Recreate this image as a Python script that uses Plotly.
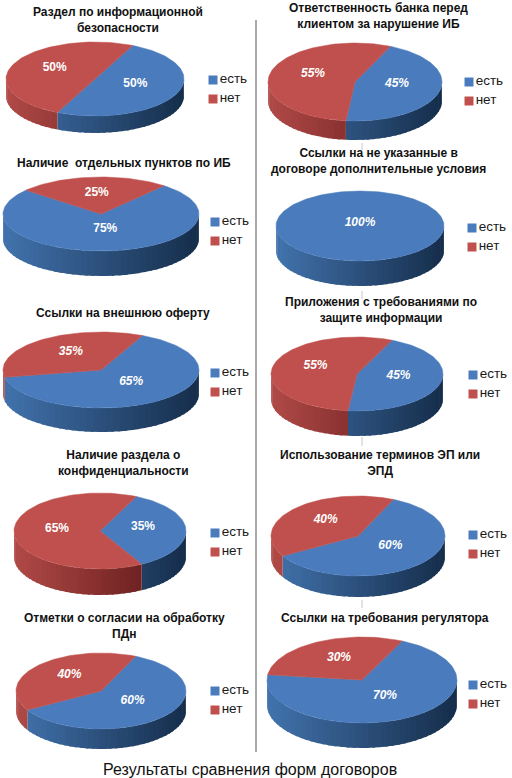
import numpy as np
import plotly.graph_objects as go

# --- data ---
titles = [
    "Раздел по информационной<br>безопасности",
    "Ответственность банка перед<br>клиентом за нарушение ИБ",
    "Наличие  отдельных пунктов по ИБ",
    "Ссылки на не указанные в<br>договоре дополнительные условия",
    "Ссылки на внешнюю оферту",
    "Приложения с требованиями по<br>защите информации",
    "Наличие раздела о<br>конфиденциальности",
    "Использование терминов ЭП или<br>ЭПД",
    "Отметки о согласии на обработку<br>ПДн",
    "Ссылки на требования регулятора",
]
yes_share = [50, 45, 75, 100, 65, 45, 35, 60, 60, 70]
no_share = [50, 55, 25, 0, 35, 55, 65, 40, 40, 30]
series_names = ["есть", "нет"]
caption = "Результаты сравнения форм договоров"

# --- layout of each small pie (pixel coords, y downwards) ---
pies = [
    dict(cx=95, cy=79, a=89, b=37, h=17, rot=25, tx=118, ty=20, lx=213, ly=80, it=False),
    dict(cx=355, cy=82, a=87, b=39, h=19, rot=24, tx=378, ty=16, lx=469, ly=82, it=True),
    dict(cx=101, cy=214, a=98, b=37, h=25, rot=40, tx=124, ty=163, lx=215, ly=222, it=False),
    dict(cx=360, cy=226, a=84, b=35, h=25, rot=0, tx=378, ty=161, lx=472, ly=228, it=True),
    dict(cx=101, cy=370, a=98, b=38, h=24, rot=25, tx=123, ty=313, lx=215, ly=373, it=True),
    dict(cx=357, cy=374, a=86, b=37, h=25, rot=24, tx=381, ty=310, lx=473, ly=375, it=True),
    dict(cx=100, cy=531, a=86, b=38, h=26, rot=25, tx=123, ty=463, lx=215, ly=533, it=False),
    dict(cx=358, cy=536, a=87, b=40, h=21, rot=24, tx=380, ty=463, lx=473, ly=535, it=True),
    dict(cx=101, cy=691, a=85, b=38, h=20, rot=24, tx=124, ty=626, lx=215, ly=691, it=True),
    dict(cx=362, cy=680, a=95, b=43, h=25, rot=25, tx=385, ty=618, lx=473, ly=685, it=True),
]

TOP = ["#4a7bbc", "#c0504d"]
WALL_LIGHT = ["#4273ad", "#b04a47"]
WALL_DARK = ["#152d4a", "#581414"]
FONT = "Liberation Sans"


def mix(c1, c2, t):
    a = [int(c1[i:i + 2], 16) for i in (1, 3, 5)]
    b = [int(c2[i:i + 2], 16) for i in (1, 3, 5)]
    return "#%02x%02x%02x" % tuple(round(x + (y - x) * t) for x, y in zip(a, b))


def arc(p, t1, t2, n=None, dy=0.0):
    if n is None:
        n = max(2, int(abs(t2 - t1) / 2) + 2)
    th = np.radians(np.linspace(t1, t2, n))
    return p["cx"] + p["a"] * np.sin(th), p["cy"] - p["b"] * np.cos(th) + dy


def front_parts(t1, t2):
    parts = []
    for k in (-1, 0, 1, 2):
        lo, hi = max(t1, 90 + 360 * k), min(t2, 270 + 360 * k)
        if hi > lo:
            parts.append((lo, hi))
    return parts


fig = go.Figure()
walls, tops, labels, marks = [], [], [], []

for i, p in enumerate(pies):
    shares = [yes_share[i], no_share[i]]
    start = p["rot"]
    for j, v in enumerate(shares):
        if v <= 0:
            continue
        end = start + 360 * v / 100
        # side wall, split into strips for the shading (strips overlap a bit)
        for lo, hi in front_parts(start, end):
            edges = np.linspace(lo, hi, max(2, int((hi - lo) / 4) + 2))
            for s0, s1 in zip(edges[:-1], edges[1:]):
                s1x = min(s1 + 1.5, hi)
                mid = np.radians((s0 + s1) / 2)
                col = mix(WALL_LIGHT[j], WALL_DARK[j], (1 + np.sin(mid)) / 2)
                xt, yt = arc(p, s0, s1x, 4)
                xb, yb = arc(p, s1x, s0, 4, dy=p["h"])
                walls.append(go.Scatter(
                    x=np.r_[xt, xb], y=np.r_[yt, yb], fill="toself", fillcolor=col,
                    mode="lines", line=dict(width=0),
                    hoverinfo="skip", showlegend=False))
        # top face
        xa, ya = arc(p, start, end)
        if v < 100:
            xa, ya = np.r_[p["cx"], xa, p["cx"]], np.r_[p["cy"], ya, p["cy"]]
        tops.append(go.Scatter(
            x=xa, y=ya, fill="toself", fillcolor=TOP[j], mode="lines",
            line=dict(color=TOP[j], width=0.5), name=series_names[j],
            hovertemplate=f"{series_names[j]}: {v}%<extra></extra>", showlegend=False))
        # data label
        m = np.radians((start + end) / 2)
        r = 0 if v == 100 else 0.5
        labels.append(go.Scatter(
            x=[p["cx"] + p["a"] * np.sin(m) * r],
            y=[p["cy"] - p["b"] * np.cos(m) * r - 3],
            mode="text", text=[f"{v}%"], hoverinfo="skip", showlegend=False,
            textfont=dict(family=FONT, size=12, color="white", weight="bold",
                          style="italic" if p["it"] else "normal")))
        start = end
    # legend of each pie
    for j, name in enumerate(series_names):
        marks.append(go.Scatter(
            x=[p["lx"]], y=[p["ly"] + 19 * j], mode="markers+text", text=[name],
            textposition="middle right", hoverinfo="skip", showlegend=False,
            cliponaxis=False,
            marker=dict(symbol="square", size=9, color=TOP[j]),
            textfont=dict(family=FONT, size=13.5, color="#1a1a1a")))
    fig.add_annotation(x=p["tx"], y=p["ty"], text=f"<b>{titles[i]}</b>", showarrow=False,
                       xanchor="center", yanchor="middle",
                       font=dict(family=FONT, size=12, color="#111111"))

for t in walls + tops + labels + marks:
    fig.add_trace(t)

fig.add_annotation(x=250, y=769, text=caption, showarrow=False, xanchor="center",
                   yanchor="middle", font=dict(family=FONT, size=16, color="#111111"))

# column divider and small ticks from the scan
fig.add_shape(type="line", x0=256, x1=256, y0=20, y1=752,
              line=dict(color="#8c8c8c", width=1.5))
for y0, y1 in [(143, 151), (291, 299), (437, 446), (600, 608)]:
    fig.add_shape(type="line", x0=362, x1=362, y0=y0, y1=y1,
                  line=dict(color="#c8c8c8", width=1))

fig.update_layout(
    width=512, height=778, margin=dict(l=0, r=0, t=0, b=0),
    paper_bgcolor="white", plot_bgcolor="white", showlegend=False,
    xaxis=dict(range=[0, 512], visible=False, fixedrange=True),
    yaxis=dict(range=[778, 0], visible=False, fixedrange=True),
)
# the page body has a default margin; drop it so the figure fills the window
fig.write_html("out.html", config={"displayModeBar": False},
               post_script="document.body.style.margin='0';")
